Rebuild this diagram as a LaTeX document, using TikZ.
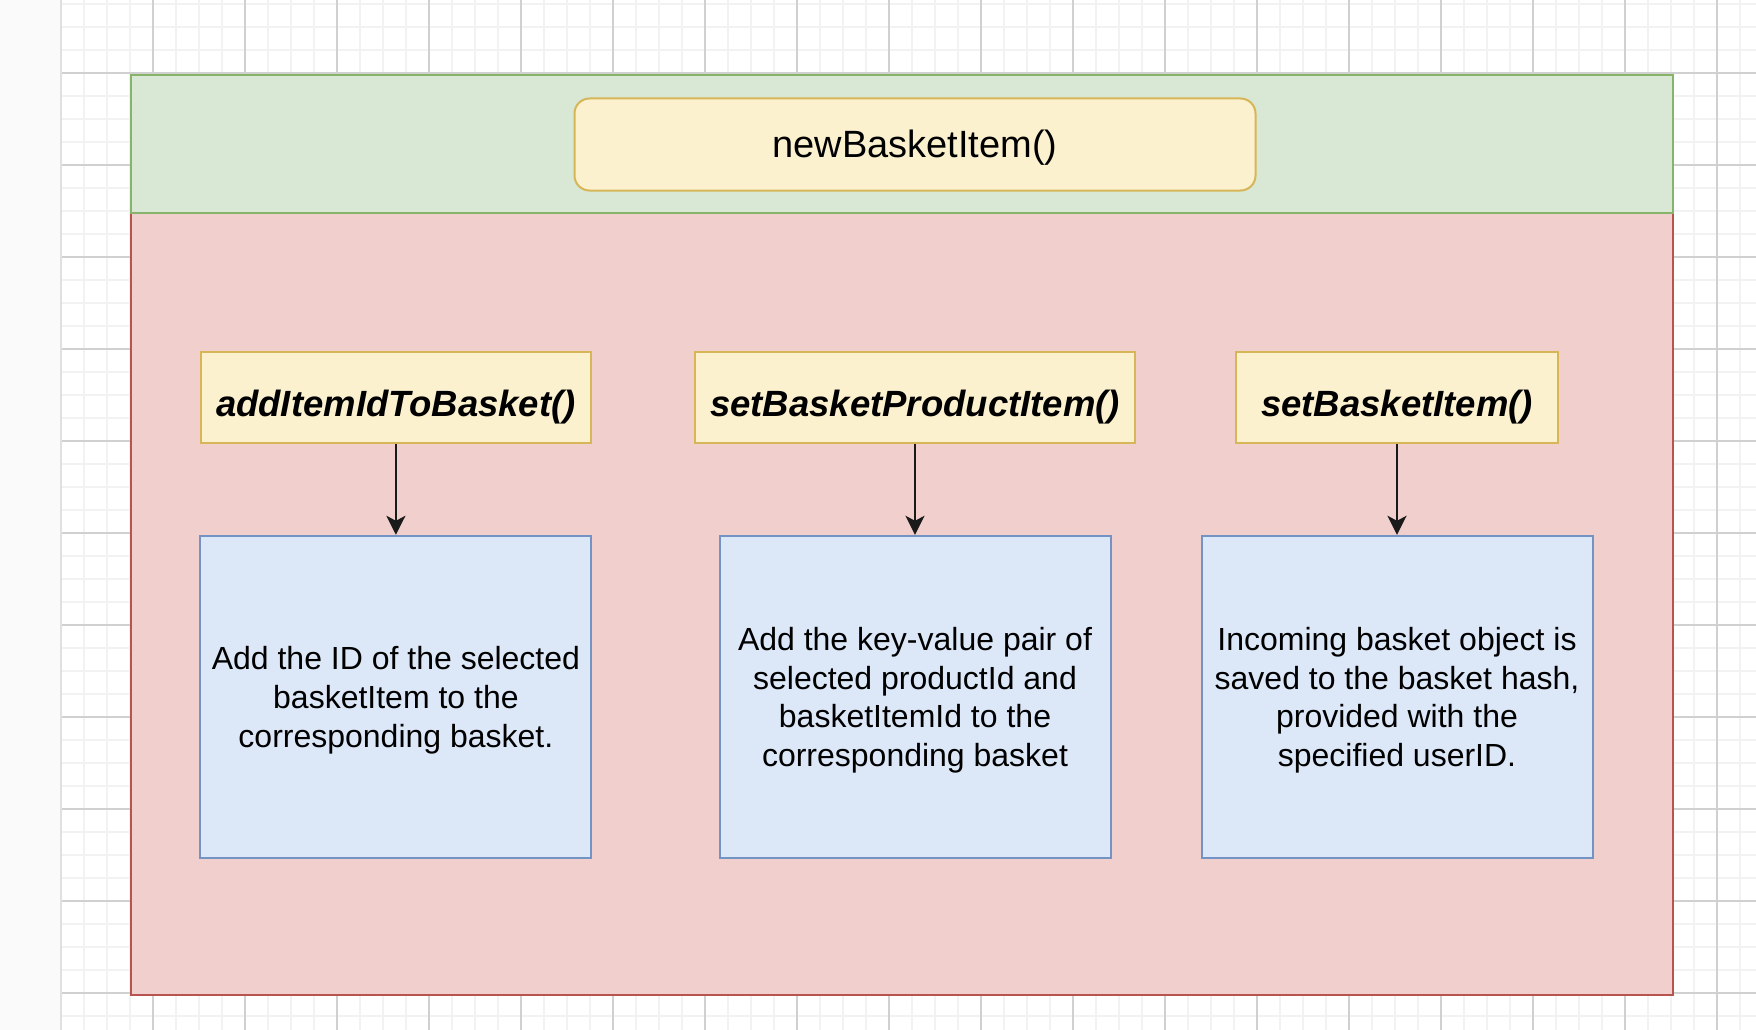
\documentclass[tikz,border=0pt]{standalone}
\usepackage{fontspec}
\setmainfont{Liberation Sans}
\usetikzlibrary{arrows.meta}
\definecolor{stripgray}{HTML}{FAFAFA}
\definecolor{minorgrid}{HTML}{F2F2F2}
\definecolor{majorgrid}{HTML}{D0D0D0}
\definecolor{greenfill}{HTML}{D9E7D5}
\definecolor{greenline}{HTML}{88B36A}
\definecolor{redfill}{HTML}{F1CFCD}
\definecolor{redline}{HTML}{B85450}
\definecolor{yellowfill}{HTML}{FCF1CF}
\definecolor{yellowline}{HTML}{D6B656}
\definecolor{bluefill}{HTML}{DCE7F8}
\definecolor{blueline}{HTML}{7393C4}
\definecolor{arrowcol}{HTML}{1A1A1A}
\tikzset{
  container/.style={draw, line width=2.5pt, inner sep=0pt, rectangle},
  titlebox/.style={draw=yellowline, fill=yellowfill, line width=2pt, rounded corners=15pt,
    minimum width=681pt, minimum height=92pt, inner sep=0pt},
  titletext/.style={inner sep=0pt, font=\fontsize{38}{45}\selectfont},
  funcbox/.style={draw=yellowline, fill=yellowfill, line width=2pt,
    minimum height=91.6pt, inner sep=0pt},
  functext/.style={inner sep=0pt, font=\fontsize{36.5}{43}\selectfont\bfseries\itshape},
  descbox/.style={draw=blueline, fill=bluefill, line width=2pt,
    minimum width=391pt, minimum height=322pt, inner sep=0pt},
  desctext/.style={inner sep=0pt, align=center, font=\fontsize{32}{38.6}\selectfont},
  callarrow/.style={draw=arrowcol, line width=2.5pt,
    -{Stealth[length=19pt,width=19pt,inset=5pt]}}
}
\begin{document}
\begin{tikzpicture}[x=1pt,y=-1pt]
\useasboundingbox (0,0) rectangle (1756,1030);
% canvas
\fill[white] (0,0) rectangle (1756,1030);
\fill[stripgray] (0,0) rectangle (61,1030);
\draw[color=black!12, line width=2pt] (61,0) -- (61,1030);
\foreach \x in {84,107,...,1756} \draw[minorgrid, line width=2pt] (\x,0) -- (\x,1030);
\foreach \y in {4,27,...,1030} \draw[minorgrid, line width=2pt] (62,\y) -- (1756,\y);
\foreach \x in {153,245,...,1717} \draw[majorgrid, line width=1.2pt] (\x,0) -- (\x,1030);
\foreach \y in {73,165,...,993} \draw[majorgrid, line width=1.2pt] (62,\y) -- (1756,\y);
% containers
\node[container, draw=redline, fill=redfill, minimum width=1542pt, minimum height=782pt] (body) at (902,604) {};
\node[container, draw=greenline, fill=greenfill, minimum width=1542pt, minimum height=138pt] (head) at (902,144) {};
% title
\node[titlebox] (title) at (915,144.5) {};
\node[titletext] (titlet) at ([yshift=-3.5pt]title.center) {newBasketItem()};
% function boxes
\node[funcbox, minimum width=390pt] (f1) at (395.9,397.5) {};
\node[funcbox, minimum width=439.5pt] (f2) at (915,397.5) {};
\node[funcbox, minimum width=322.6pt] (f3) at (1397,397.5) {};
\node[functext] (f1t) at ([yshift=-10pt]f1.center) {addItemIdToBasket()};
\node[functext] (f2t) at ([yshift=-10pt]f2.center) {setBasketProductItem()};
\node[functext] (f3t) at ([yshift=-10pt]f3.center) {setBasketItem()};
% description boxes
\node[descbox] (d1) at (395.9,696.8) {};
\node[descbox] (d2) at (915,696.8) {};
\node[descbox] (d3) at (1397,696.8) {};
\node[desctext] (d1t) at ([yshift=-3.5pt]d1.center) {Add the ID of the selected\\basketItem to the\\corresponding basket.};
\node[desctext] (d2t) at ([yshift=-3.5pt]d2.center) {Add the key-value pair of\\selected productId and\\basketItemId to the\\corresponding basket};
\node[desctext] (d3t) at ([yshift=-3.5pt]d3.center) {Incoming basket object is\\saved to the basket hash,\\provided with the\\specified userID.};
% arrows
\draw[callarrow] (f1) -- (d1);
\draw[callarrow] (f2) -- (d2);
\draw[callarrow] (f3) -- (d3);
\end{tikzpicture}
\end{document}
